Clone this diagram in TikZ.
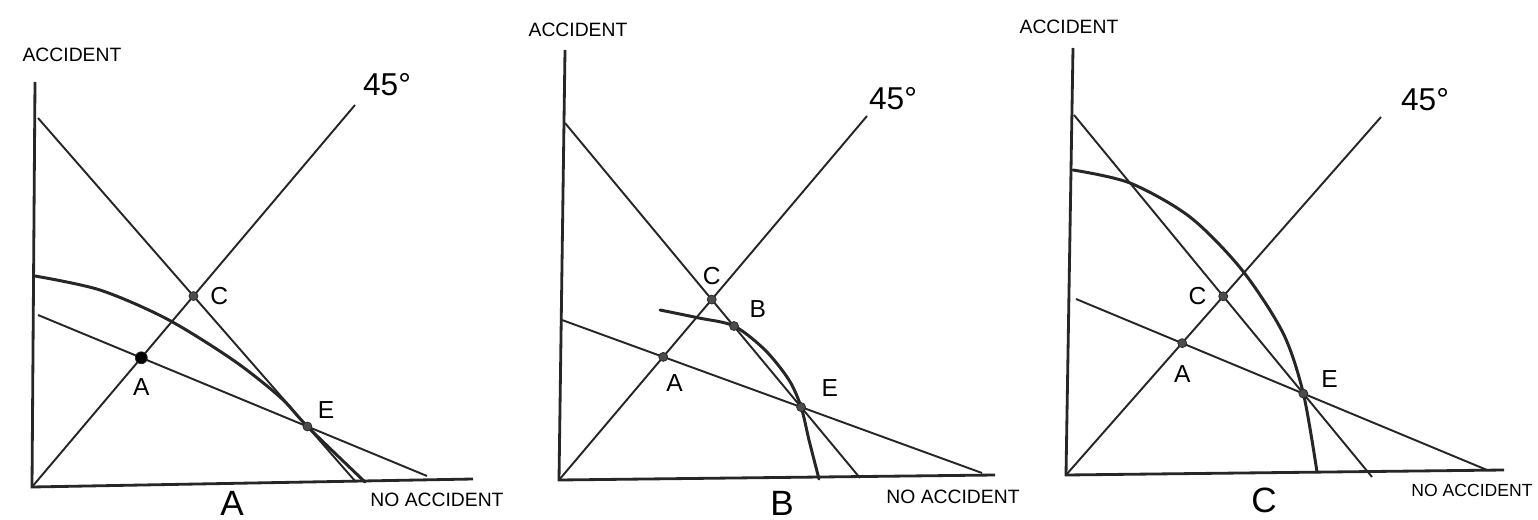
\documentclass[tikz,border=0pt]{standalone}
\usepackage{fontspec}
\setmainfont{Liberation Sans}
\usetikzlibrary{positioning}

\begin{document}
\begin{tikzpicture}[x=0.02cm, y=-0.02cm,
            axis/.style={line width=1.6pt, black!85},
            budget/.style={line width=1.1pt, black!85},
            curve/.style={line width=1.7pt, black!85, line cap=round},
            dot/.style={circle, fill=black!70, draw=black!85, inner sep=0pt, minimum size=0.18cm},
            lbl/.style={font=\fontsize{14}{16}\selectfont, inner sep=1pt},
            axlbl/.style={font=\fontsize{11}{13}\selectfont},
            deg/.style={font=\fontsize{18}{20}\selectfont},
            panel/.style={font=\fontsize{20}{22}\selectfont}
        ]
            \useasboundingbox (0,0) rectangle (1538,520);

            % panel A
            \coordinate (O1) at (32,487);
            \coordinate (Y1) at (35,82);
            \coordinate (X1) at (473,479);
            \coordinate (S1a) at (38,118);
            \coordinate (S1b) at (355,481);
            \coordinate (F1a) at (38,315);
            \coordinate (F1b) at (427,476);
            \coordinate (T1) at (355,105);
            \coordinate (c1) at (intersection of S1a--S1b and O1--T1);
            \coordinate (a1) at (intersection of F1a--F1b and O1--T1);
            \coordinate (e1) at (intersection of S1a--S1b and F1a--F1b);

            \draw[axis] (Y1) -- (O1) -- (X1);
            \draw[budget] (S1a) -- (S1b);
            \draw[budget] (F1a) -- (F1b);
            \draw[budget] (O1) -- (T1);
            \draw[curve] plot[smooth] coordinates {(35,276) (100,290) (167,319) (233,360) (280,397) (e1) (365,482)};

            \node[dot] (C1) at (c1) {};
            \node[dot, fill=black, minimum size=0.24cm] (A1) at (a1) {};
            \node[dot] (E1) at (e1) {};
            \node[lbl, right=0.2cm of C1] (lC1) {C};
            \node[lbl, below=0.25cm of A1] (lA1) {A};
            \node[lbl, above right=0.05cm and 0.1cm of E1] (lE1) {E};

            \node[axlbl] (acc1) at (72,55) {ACCIDENT};
            \node[axlbl] (no1) at (437,500) {NO ACCIDENT};
            \node[deg] (deg1) at (387,85) {45°};
            \node[panel] (pA) at (232,503) {A};

            % panel B
            \coordinate (O2) at (559,480);
            \coordinate (Y2) at (565,50);
            \coordinate (X2) at (995,475);
            \coordinate (S2a) at (565,123);
            \coordinate (S2b) at (860,478);
            \coordinate (F2a) at (562,320);
            \coordinate (F2b) at (982,473);
            \coordinate (T2) at (867,116);
            \coordinate (c2) at (intersection of S2a--S2b and O2--T2);
            \coordinate (a2) at (intersection of F2a--F2b and O2--T2);
            \coordinate (e2) at (intersection of S2a--S2b and F2a--F2b);
            \coordinate (b2) at (734,326);

            \draw[axis] (Y2) -- (O2) -- (X2);
            \draw[budget] (S2a) -- (S2b);
            \draw[budget] (F2a) -- (F2b);
            \draw[budget] (O2) -- (T2);
            \draw[curve] plot[smooth] coordinates {(660,310) (699,318) (b2) (765,350) (789,380) (e2) (809,440) (819,479)};

            \node[dot] (C2) at (c2) {};
            \node[dot] (B2) at (b2) {};
            \node[dot] (A2) at (a2) {};
            \node[dot] (E2) at (e2) {};
            \node[lbl, above=0.15cm of C2] (lC2) {C};
            \node[lbl, above right=0.05cm and 0.2cm of B2] (lB2) {B};
            \node[lbl, below right=0.25cm and -0.05cm of A2] (lA2) {A};
            \node[lbl, above right=0.1cm and 0.3cm of E2] (lE2) {E};

            \node[axlbl] (acc2) at (578,30) {ACCIDENT};
            \node[axlbl] (no2) at (953,497) {NO ACCIDENT};
            \node[deg] (deg2) at (893,99) {45°};
            \node[panel] (pB) at (782,503) {B};

            % panel C
            \coordinate (O3) at (1066,475);
            \coordinate (Y3) at (1073,48);
            \coordinate (X3) at (1504,470);
            \coordinate (S3a) at (1074,115);
            \coordinate (S3b) at (1372,477);
            \coordinate (F3a) at (1076,299);
            \coordinate (F3b) at (1487,470);
            \coordinate (T3) at (1381,117);
            \coordinate (c3) at (intersection of S3a--S3b and O3--T3);
            \coordinate (a3) at (intersection of F3a--F3b and O3--T3);
            \coordinate (e3) at (intersection of S3a--S3b and F3a--F3b);

            \draw[axis] (Y3) -- (O3) -- (X3);
            \draw[budget] (S3a) -- (S3b);
            \draw[budget] (F3a) -- (F3b);
            \draw[budget] (O3) -- (T3);
            \draw[curve] plot[smooth] coordinates {(1073,170) (1130,183) (1190,217) (1242,270) (1283,333) (e3) (1317,472)};

            \node[dot] (C3) at (c3) {};
            \node[dot] (A3) at (a3) {};
            \node[dot] (E3) at (e3) {};
            \node[lbl, left=0.2cm of C3] (lC3) {C};
            \node[lbl, below=0.3cm of A3] (lA3) {A};
            \node[lbl, above right=0.02cm and 0.25cm of E3] (lE3) {E};

            \node[axlbl] (acc3) at (1069,27) {ACCIDENT};
            \node[axlbl, font=\fontsize{10}{12}\selectfont] (no3) at (1472,490) {NO ACCIDENT};
            \node[deg] (deg3) at (1425,100) {45°};
            \node[panel] (pC) at (1264,500) {C};
        \end{tikzpicture}
\end{document}
